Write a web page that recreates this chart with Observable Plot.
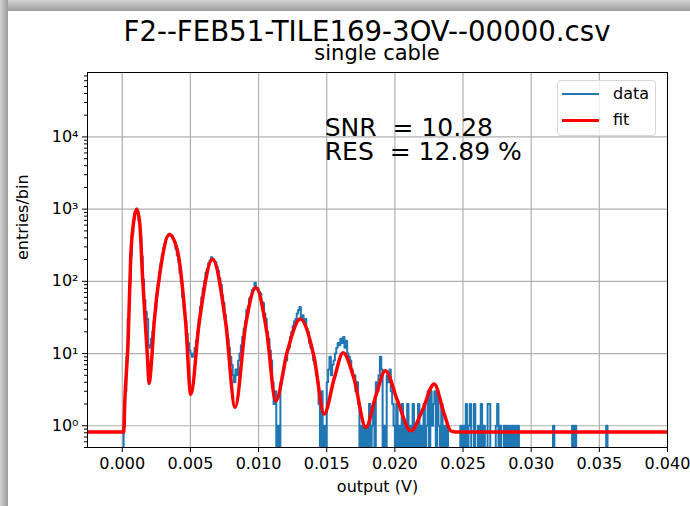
<!DOCTYPE html>
<html>
<head>
<meta charset="utf-8">
<script src="https://cdn.jsdelivr.net/npm/d3@7"></script>
<script src="https://cdn.jsdelivr.net/npm/@observablehq/plot@0.6"></script>
<style>
  html, body { margin: 0; padding: 0; }
  body { width: 690px; height: 506px; position: relative; overflow: hidden; background: #ffffff; font-family: "DejaVu Sans", sans-serif; }
  #frameTop { position: absolute; left: 0; top: 0; width: 690px; height: 11px; background: linear-gradient(#d4d4d4, #9c9c9c); }
  #frameLeft { position: absolute; left: 0; top: 0; width: 8px; height: 506px; background: linear-gradient(90deg, #d4d4d4, #9c9c9c); }
  #title { position: absolute; left: 0; width: 734px; top: 21px; text-align: center; font-size: 27.6px; line-height: 0.8; color: #000; white-space: pre; }
  #subtitle { position: absolute; left: 87px; width: 580px; top: 45px; text-align: center; font-size: 21px; line-height: 0.8; color: #000; }
  #chart { position: absolute; left: 0; top: 0; }
  #chart svg text { white-space: pre; }
  #legend { position: absolute; left: 557px; top: 80px; width: 99px; height: 56px; box-sizing: border-box;
            border: 1px solid #d6d6d6; border-radius: 4px; background: rgba(255,255,255,0.8); }
  .row { position: absolute; left: 0; height: 20px; font-size: 16px; }
  .row .swatch { position: absolute; left: 4px; top: 9px; width: 37px; height: 2px; }
  .row span { position: absolute; left: 55px; top: 0; }
</style>
</head>
<body>
<div id="frameTop"></div>
<div id="frameLeft"></div>
<div id="chart"></div>
<div id="title">F2--FEB51-TILE169-3OV--00000.csv</div>
<div id="subtitle">single cable</div>
<div id="legend">
  <div class="row" style="top:3px"><div class="swatch" style="background:#1f77b4"></div><span>data</span></div>
  <div class="row" style="top:29px"><div class="swatch" style="background:#ff0000;height:3px"></div><span>fit</span></div>
</div>
<script>
// Histogram: entries per 0.0001 V bin, first bin starting at 0.000 V
const binStart = 0.0;
const binWidth = 0.0001;
const counts = [
  // 0.000 – 0.001
  0, 1, 3, 9, 30, 90, 225, 440, 700, 905,
  // 0.001
  1010, 925, 700, 420, 225, 105, 55, 38, 30, 13,
  // 0.002
  12, 16, 20, 28, 42, 65, 92, 135, 178, 235,
  // 0.003
  290, 338, 395, 420, 452, 440, 430, 382, 350, 280,
  // 0.004
  228, 185, 130, 96, 60, 42, 28, 19, 14, 11,
  // 0.005
  10, 9, 10, 12, 15, 20, 30, 44, 60, 80,
  // 0.006
  100, 132, 148, 178, 195, 215, 200, 192, 185, 160,
  // 0.007
  140, 110, 90, 64, 50, 34, 24, 16, 12, 9,
  // 0.008
  7, 5, 4, 6, 5, 8, 10, 13, 17, 22,
  // 0.009
  28, 40, 45, 58, 62, 76, 80, 95, 78, 80,
  // 0.010
  72, 68, 52, 50, 36, 30, 20, 16, 11, 8,
  // 0.011
  4, 2, 3, 0, 1, 0, 4, 5, 6, 8,
  // 0.012
  8, 11, 12, 17, 20, 24, 28, 30, 36, 40,
  // 0.013
  44, 32, 34, 28, 30, 22, 20, 14, 12, 11,
  // 0.014
  8, 7, 5, 4, 2, 0, 3, 0, 1, 0,
  // 0.015
  4, 6, 9, 5, 7, 8, 10, 12, 14, 13,
  // 0.016
  16, 14, 17, 12, 15, 10, 9, 8, 6, 5,
  // 0.017
  5, 3, 4, 2, 0, 1, 0, 1, 0, 1,
  // 0.018
  0, 2, 0, 1, 2, 0, 4, 3, 5, 9,
  // 0.019
  6, 0, 1, 0, 5, 4, 6, 3, 2, 1,
  // 0.020
  0, 2, 0, 1, 0, 2, 0, 1, 0, 2,
  // 0.021
  0, 1, 0, 2, 0, 1, 0, 2, 0, 1,
  // 0.022
  0, 2, 0, 1, 3, 0, 3, 1, 2, 3,
  // 0.023
  0, 3, 1, 0, 2, 0, 1, 0, 1, 0,
  // 0.024
  0, 0, 0, 0, 0, 0, 0, 0, 1, 0,
  // 0.025
  1, 0, 2, 0, 1, 2, 0, 0, 2, 0,
  // 0.026
  0, 1, 0, 2, 0, 1, 0, 0, 2, 2,
  // 0.027
  0, 0, 0, 0, 1, 2, 0, 1, 0, 0,
  // 0.028
  1, 0, 1, 0, 1, 0, 1, 0, 1, 0,
  // 0.029
  1, 0, 0, 0, 0, 0, 0, 0, 0, 0,
  // 0.030
  0, 0, 0, 0, 0, 0, 0, 0, 0, 0,
  // 0.031
  0, 0, 0, 0, 0, 0, 1, 0, 0, 0,
  // 0.032
  0, 0, 0, 0, 0, 0, 0, 0, 0, 0,
  // 0.033
  1, 0, 1, 0, 0, 0, 0, 0, 0, 0,
  // 0.034
  0, 0, 0, 0, 0, 0, 0, 0, 0, 0,
  // 0.035
  0, 0, 0, 0, 0, 1, 0, 0, 0, 0
];

// Fitted multi-peak model, sampled at its knots (output in V, entries/bin)
const fitX = [
  -0.00255, 0.00010, 0.00020, 0.00043, 0.00062, 0.00085, 0.00106, 0.00128, 0.00148, 0.00170,
  0.00185, 0.00197, 0.00215, 0.00233, 0.00282, 0.00345, 0.00405, 0.00466, 0.00503, 0.00563,
  0.00662, 0.00760, 0.00828, 0.00906, 0.00980, 0.01060, 0.01126, 0.01212, 0.01305, 0.01408,
  0.01481, 0.01555, 0.01620, 0.01700, 0.01787, 0.01860, 0.01930, 0.02020, 0.02117, 0.02200,
  0.02288, 0.02360, 0.02410, 0.02450, 0.04000
];
const fitY = [
  0.82, 0.82, 2.5, 15, 214, 700, 1000, 650, 125, 25,
  8.8, 3.85, 8, 25.6, 155, 447, 265, 25.6, 2.7, 25.6,
  203, 25.6, 1.8, 25.6, 82, 20, 2.2, 10.9, 30, 8.8,
  1.45, 4.5, 10.3, 4.5, 0.95, 2.6, 5.8, 2.2, 0.85, 1.6,
  3.78, 1.5, 0.85, 0.82, 0.82
];

const xTicks = [0.000, 0.005, 0.010, 0.015, 0.020, 0.025, 0.030, 0.035, 0.040];
const yTicks = [1, 10, 100, 1000, 10000];
const yDomain = [0.5, 78000];
const xDomain = [-0.00255, 0.040];
const annotation = "SNR  = 10.28\nRES  = 12.89 %";

// minor log ticks 2..9 × 10^k inside the y range
const yMinor = [];
for (let k = -1; k <= 4; k++) for (let m = 2; m <= 9; m++) {
  const v = m * Math.pow(10, k);
  if (v >= yDomain[0] && v <= yDomain[1]) yMinor.push(v);
}

const hist = counts.map((c, i) => ({x: binStart + i * binWidth, count: c}));
hist.push({x: binStart + counts.length * binWidth, count: 0});
const fit = fitX.map((x, i) => ({x, y: fitY[i]}));

const sup = {"0": "⁰", "1": "¹", "2": "²", "3": "³", "4": "⁴", "5": "⁵", "6": "⁶", "7": "⁷", "8": "⁸", "9": "⁹", "-": "⁻"};
const fmtPow = v => "10" + String(Math.round(Math.log10(v))).split("").map(c => sup[c]).join("");

const chart = Plot.plot({
  width: 690,
  height: 506,
  marginLeft: 87,
  marginRight: 23,
  marginTop: 72,
  marginBottom: 59,
  style: {fontFamily: "DejaVu Sans", fontSize: "16px", background: "transparent", color: "black"},
  x: {domain: xDomain},
  y: {type: "log", domain: yDomain},
  marks: [
    Plot.gridX(xTicks, {stroke: "#b0b0b0", strokeOpacity: 1, strokeWidth: 1.2}),
    Plot.gridY(yTicks, {stroke: "#b0b0b0", strokeOpacity: 1, strokeWidth: 1.2}),
    Plot.line(hist, {x: "x", y: d => (d.count > 0 ? d.count : 0.01), curve: "step-after",
      stroke: "#1f77b4", strokeWidth: 2, clip: true}),
    Plot.line(fit, {x: "x", y: "y", curve: "monotone-x", stroke: "#ff0000", strokeWidth: 3.5, clip: true}),
    Plot.frame({stroke: "black", strokeWidth: 1}),
    Plot.axisX(xTicks, {tickSize: 5, tickPadding: 5, tickFormat: d3.format(".3f"), fontSize: 16, label: null}),
    Plot.axisY(yMinor, {tickSize: 3, tickFormat: () => "", label: null}),
    Plot.axisY(yTicks, {tickSize: 5, tickPadding: 4, tickFormat: fmtPow, fontSize: 16, label: null}),
    Plot.text(["output (V)"], {frameAnchor: "bottom", dy: 44, fontSize: 16}),
    Plot.text(["entries/bin"], {frameAnchor: "left", dx: -65, rotate: -90, fontSize: 16}),
    Plot.text([annotation], {x: 0.015, y: 4800, dx: -2, text: d => d, textAnchor: "start",
      lineAnchor: "bottom", lineHeight: 0.96, fontSize: 25})
  ]
});
document.getElementById("chart").appendChild(chart);
</script>
</body>
</html>
